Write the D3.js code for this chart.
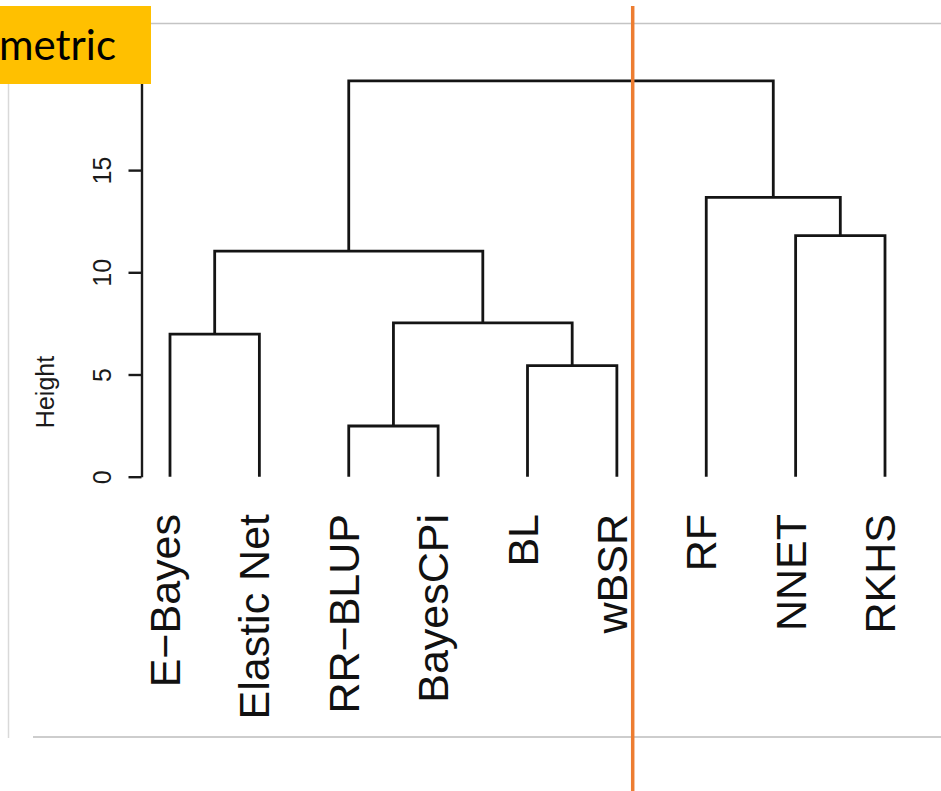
<!DOCTYPE html>
<html>
<head>
<meta charset="utf-8">
<script src="https://cdn.jsdelivr.net/npm/d3@7"></script>
<style>
  html, body { margin: 0; padding: 0; background: #fff; }
  svg { display: block; }
</style>
</head>
<body>
<svg id="chart" width="941" height="791"></svg>
<script>
// Leaf labels in dendrogram order (left to right)
const leaves = ["E\u2212Bayes", "Elastic Net", "RR\u2212BLUP", "BayesCPi", "BL", "wBSR", "RF", "NNET", "RKHS"];

// hclust-style merge table: negative = leaf index (1-based), positive = earlier merge step
const mergeLeft  = [-3, -5, -1, 1, 3, -8, -7, 5];
const mergeRight = [-4, -6, -2, 2, 4, -9, 6, 7];
const mergeHeight = [2.48, 5.43, 6.98, 7.53, 11.04, 11.79, 13.67, 19.37];

// Axis ticks
const yTicks = [0, 5, 10, 15, 20];
const yLabel = "Height";
const tagText = "metric";

const svg = d3.select("#chart");

const x = d3.scalePoint().domain(leaves).range([170, 885]);
const y = d3.scaleLinear().domain([0, 20]).range([476.7, 67.9]);

// page frame lines
svg.append("line").attr("x1", 151).attr("x2", 941).attr("y1", 23.5).attr("y2", 23.5)
  .attr("stroke", "#c4c4c4").attr("stroke-width", 1.5);
svg.append("line").attr("x1", 33).attr("x2", 941).attr("y1", 737).attr("y2", 737)
  .attr("stroke", "#cdcdcd").attr("stroke-width", 2);
svg.append("line").attr("x1", 8.5).attr("x2", 8.5).attr("y1", 84).attr("y2", 738)
  .attr("stroke", "#d9d9d9").attr("stroke-width", 1.5);

// y axis
const axisG = svg.append("g").attr("transform", "translate(141.5,0)");
axisG.call(d3.axisLeft(y).tickValues(yTicks).tickSize(13).tickSizeOuter(0).tickPadding(0));
axisG.select(".domain").attr("stroke", "#1a1a1a").attr("stroke-width", 2.4);
axisG.selectAll(".tick line").attr("stroke", "#1a1a1a").attr("stroke-width", 2.4);
axisG.selectAll(".tick text").remove();
axisG.selectAll(".tick").append("text")
  .attr("transform", "translate(-31,0) rotate(-90)")
  .attr("text-anchor", "middle")
  .attr("fill", "#1a1a1a")
  .attr("stroke", "none")
  .style("font-family", "'Liberation Sans', Arial, sans-serif")
  .style("font-size", "25px")
  .text(d => d);

svg.append("text")
  .attr("transform", `translate(54,392) rotate(-90)`)
  .attr("text-anchor", "middle")
  .attr("fill", "#1a1a1a")
  .style("font-family", "'Liberation Sans', Arial, sans-serif")
  .style("font-size", "25px")
  .text(yLabel);

// dendrogram: compute node positions from merge table
const nodeX = [], nodeY = [];
function pos(ref) {
  if (ref < 0) return { x: x(leaves[-ref - 1]), y: y(0) };
  return { x: nodeX[ref - 1], y: nodeY[ref - 1] };
}
const segs = [];
mergeHeight.forEach((h, i) => {
  const a = pos(mergeLeft[i]), b = pos(mergeRight[i]);
  const my = y(h);
  nodeX.push((a.x + b.x) / 2);
  nodeY.push(my);
  segs.push(`M${a.x},${a.y}V${my}H${b.x}V${b.y}`);
});

svg.append("g")
  .selectAll("path")
  .data(segs)
  .join("path")
  .attr("d", d => d)
  .attr("fill", "none")
  .attr("stroke", "#141414")
  .attr("stroke-width", 2.8)
  .attr("stroke-linejoin", "miter")
  .attr("stroke-linecap", "butt");

// leaf labels
svg.append("g")
  .selectAll("text")
  .data(leaves)
  .join("text")
  .attr("transform", d => `translate(${x(d) + 10},514) rotate(-90)`)
  .attr("text-anchor", "end")
  .attr("fill", "#111")
  .style("font-family", "'Liberation Sans', Arial, sans-serif")
  .style("font-size", "43px")
  .text(d => d);

// tag box in the top-left corner
svg.append("rect").attr("x", 0).attr("y", 6).attr("width", 151).attr("height", 78)
  .attr("fill", "#FFC000");
svg.append("text")
  .attr("x", 116).attr("y", 60)
  .attr("text-anchor", "end")
  .attr("fill", "#000")
  .style("font-family", "Lato, 'Open Sans', sans-serif")
  .style("font-size", "42px")
  .text(tagText);

// vertical divider
svg.append("line").attr("x1", 632.7).attr("x2", 632.7).attr("y1", 6).attr("y2", 791)
  .attr("stroke", "#ED7D31").attr("stroke-width", 3.5);
</script>
</body>
</html>
